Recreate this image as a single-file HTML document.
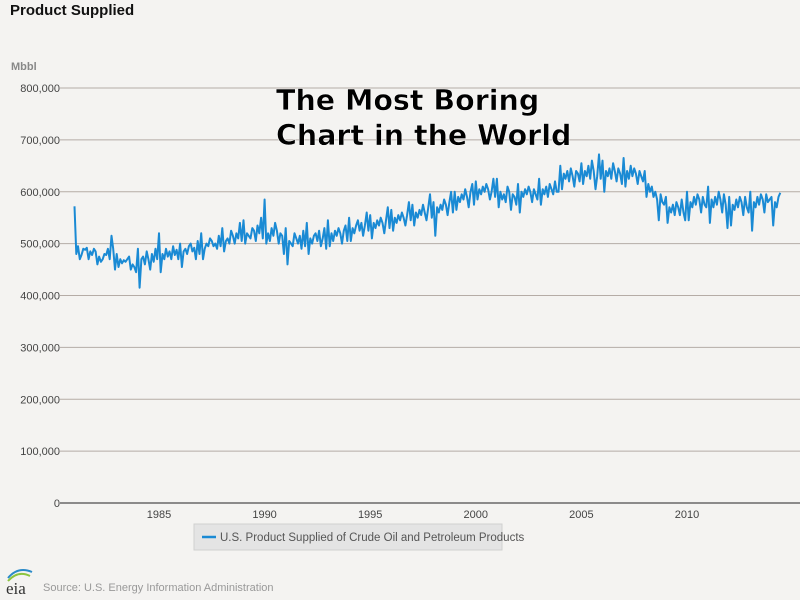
<!DOCTYPE html>
<html><head><meta charset="utf-8"><style>
body{margin:0;background:#f4f3f1;}
svg{display:block;font-family:"Liberation Sans",sans-serif;}
</style></head><body>
<svg id="chart" width="800" height="600">
<rect width="800" height="600" fill="#f4f3f1"/>
<text x="10" y="15" font-size="15" font-weight="bold" fill="#111">Product Supplied</text>
<text x="11" y="70" font-size="11" font-weight="bold" fill="#888">Mbbl</text>
<g id="grid"></g><g id="ylabels"></g><g id="xlabels"></g>
<path id="line" fill="none" stroke="#1a8ad4" stroke-width="2" stroke-linejoin="round"/>
<text x="276" y="110" font-size="28.5" font-weight="bold" fill="#000" stroke="#fff" stroke-width="0.5" font-family="DejaVu Sans,sans-serif">The Most Boring</text>
<text x="276" y="145" font-size="28.5" font-weight="bold" fill="#000" stroke="#fff" stroke-width="0.5" font-family="DejaVu Sans,sans-serif">Chart in the World</text>
<g>
<rect x="194" y="524" width="308" height="26" fill="#e4e4e4" stroke="#d0d0d0"/>
<line x1="202" y1="537" x2="216" y2="537" stroke="#1a8ad4" stroke-width="2.5"/>
<text x="220" y="541" font-size="11.5" fill="#555">U.S. Product Supplied of Crude Oil and Petroleum Products</text>
</g>
<g>
<path d="M8 578 Q18 566 32 572" stroke="#2a8ac8" stroke-width="2" fill="none"/>
<path d="M8 581 Q18 570 30 576" stroke="#8cc43f" stroke-width="2" fill="none"/>
<text x="6" y="594" font-size="17" font-family="Liberation Serif,serif" fill="#333">eia</text>
</g>
<text x="43" y="591" font-size="11" fill="#999">Source: U.S. Energy Information Administration</text>
</svg>
<script>
const yTicks=[0,100000,200000,300000,400000,500000,600000,700000,800000];
const yTickLabels=["0","100,000","200,000","300,000","400,000","500,000","600,000","700,000","800,000"];
const xTicks=[1985,1990,1995,2000,2005,2010];
const startYear=1981;
const supplied=[
572,480,495,470,478,490,488,492,470,485,478,490,
485,460,475,465,470,480,478,490,470,515,490,450,
480,455,470,462,468,465,470,475,450,460,455,445,
490,415,470,475,460,485,470,450,480,465,490,470,
520,445,480,470,490,475,485,470,495,478,488,470,
500,455,485,490,480,495,500,485,492,470,505,480,
520,470,490,500,495,510,505,495,500,490,515,495,
530,485,505,510,500,525,515,500,520,510,540,505,
545,500,520,515,510,530,525,505,535,520,550,510,
585,500,520,505,530,515,540,525,500,520,515,480,
530,460,505,500,495,520,510,500,515,490,525,495,
540,480,510,500,515,520,505,525,495,510,530,490,
545,495,520,505,525,515,530,520,500,525,535,505,
550,505,530,520,535,545,525,540,515,535,560,525,
555,510,540,530,545,535,550,540,520,545,570,530,
565,525,550,540,555,545,560,550,535,555,580,545,
575,535,560,550,565,555,575,560,545,570,595,550,
580,515,570,560,575,565,585,575,555,580,600,560,
600,565,590,580,595,585,605,590,570,600,615,575,
620,585,605,595,610,600,615,605,585,600,625,590,
625,570,600,585,595,580,610,600,565,595,590,575,
615,560,600,590,605,595,610,600,580,605,595,585,
625,575,605,595,610,590,615,605,595,620,600,600,
650,605,635,625,640,620,645,630,610,640,635,620,
655,615,640,630,650,625,660,640,605,630,672,625,
660,600,640,630,645,625,655,640,620,645,635,615,
665,610,640,625,650,630,645,635,615,640,630,620,
640,590,615,600,610,590,600,585,545,595,580,575,
590,540,570,560,575,555,580,570,555,585,560,545,
600,545,580,570,590,575,595,585,560,590,575,570,
610,540,585,570,590,575,600,585,560,595,575,530,
590,535,575,565,585,570,590,580,555,590,570,560,
600,525,580,570,590,575,595,585,560,595,580,585,
590,535,580,570,590,598];
const NS="http://www.w3.org/2000/svg";
const y=v=>503-v*(415/800000);
const x=t=>74.5+(t-1981)*21.12;
const grid=document.getElementById('grid'),yl=document.getElementById('ylabels'),xl=document.getElementById('xlabels');
yTicks.forEach((v,i)=>{
 const l=document.createElementNS(NS,'line');
 l.setAttribute('x1',60);l.setAttribute('x2',800);l.setAttribute('y1',y(v));l.setAttribute('y2',y(v));
 l.setAttribute('stroke',v===0?'#222':'#b5aca6');l.setAttribute('stroke-width',1);
 
 
 grid.appendChild(l);
 const t=document.createElementNS(NS,'text');
 t.setAttribute('x',60);t.setAttribute('y',y(v)+4);t.setAttribute('text-anchor','end');
 t.setAttribute('font-size',11);t.setAttribute('fill','#444');t.textContent=yTickLabels[i];
 
 
 yl.appendChild(t);
});
xTicks.forEach(v=>{
 const t=document.createElementNS(NS,'text');
 t.setAttribute('x',x(v));t.setAttribute('y',518);t.setAttribute('text-anchor','middle');
 t.setAttribute('font-size',11);t.setAttribute('fill','#444');t.textContent=v;
 
 
 xl.appendChild(t);
});
document.getElementById('line').setAttribute('d',supplied.map((v,i)=>(i?'L':'M')+x(startYear+i/12).toFixed(1)+' '+y(v*1000).toFixed(1)).join(''));
</script>
</body></html>
